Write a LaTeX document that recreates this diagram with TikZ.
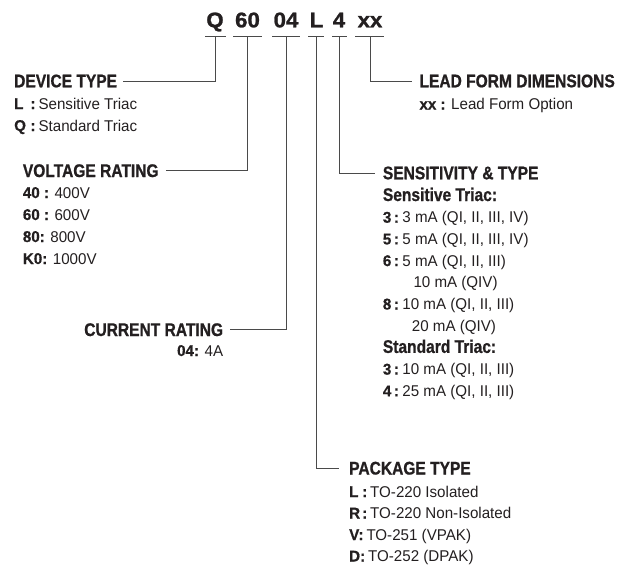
\documentclass[tikz,border=0pt]{standalone}
\usepackage{fontspec}
\setmainfont{Liberation Sans}[FakeStretch=0.97, BoldFeatures={FakeBold=0.6}]
\newfontfamily\headfont{Liberation Sans}[FakeStretch=0.85, BoldFeatures={FakeBold=0.9}]
\newfontfamily\titlefont{Liberation Sans}[FakeStretch=1.05, BoldFeatures={FakeBold=1.2}]
\definecolor{ink}{HTML}{231F20}
\definecolor{rulecol}{HTML}{4A4A4A}
\newcommand\lbx[2]{\makebox[#1][l]{\bfseries #2}}
\begin{document}
\begin{tikzpicture}[x=1pt,y=-1pt,
  head/.style={anchor=base west, inner sep=0pt, text=ink, font=\headfont\bfseries\fontsize{18.3}{20}\selectfont},
  body/.style={anchor=base west, inner sep=0pt, text=ink, font=\fontsize{15.6}{18}\selectfont},
  ttl/.style={anchor=base, inner sep=0pt, text=ink, font=\titlefont\bfseries\fontsize{21.2}{22}\selectfont},
  conn/.style={draw=rulecol, line width=0.8pt}]
\useasboundingbox (0,0) rectangle (621,568);

% title segments
\node[ttl] (tQ) at (215,27.3) {Q};
\node[ttl] (t60) at (247.5,27.3) {60};
\node[ttl] (t04) at (286,27.3) {04};
\node[ttl] (tL) at (316.5,27.3) {L};
\node[ttl] (t4) at (339,27.3) {4};
\node[ttl] (txx) at (370,27.3) {xx};

% underline coordinates
\coordinate (qa) at (205,36.5); \coordinate (qb) at (226,36.5); \coordinate (qm) at (215,36.5);
\coordinate (va) at (233,36.5); \coordinate (vb) at (262,36.5); \coordinate (vm) at (247,36.5);
\coordinate (ca) at (272,36.5); \coordinate (cb) at (300,36.5); \coordinate (cm) at (286,36.5);
\coordinate (pa) at (308,36.5); \coordinate (pb) at (324,36.5); \coordinate (pm) at (316,36.5);
\coordinate (sa) at (332,36.5); \coordinate (sb) at (347,36.5); \coordinate (sm) at (339,36.5);
\coordinate (la) at (355,36.5); \coordinate (lb) at (384,36.5); \coordinate (lm) at (370,36.5);
\draw[conn] (qa) -- (qb);
\draw[conn] (va) -- (vb);
\draw[conn] (ca) -- (cb);
\draw[conn] (pa) -- (pb);
\draw[conn] (sa) -- (sb);
\draw[conn] (la) -- (lb);

% DEVICE TYPE
\node[head] (dev) at (14,87.3) {DEVICE TYPE};
\node[body] (dev1) at (14,109) {\lbx{16.3pt}{L}\textbf{:}\hspace{3pt}Sensitive Triac};
\node[body] (dev2) at (14,131) {\lbx{16.3pt}{Q}\textbf{:}\hspace{3pt}Standard Triac};
\draw[conn] ([xshift=6pt]dev.east) -| (qm);

% VOLTAGE RATING
\node[head] (volt) at (22.7,177) {VOLTAGE RATING};
\node[body] (v1) at (22.7,198) {\textbf{40 :} 400V};
\node[body] (v2) at (22.7,220) {\textbf{60 :} 600V};
\node[body] (v3) at (22.7,242) {\textbf{80:} 800V};
\node[body] (v4) at (22.7,264) {\textbf{K0:} 1000V};
\draw[conn] ([xshift=7pt]volt.east) -| (vm);

% CURRENT RATING
\node[head, anchor=base east] (cur) at (223.3,336) {CURRENT RATING};
\node[body, anchor=base east] (cur1) at (223.3,356) {\textbf{04:} 4A};
\draw[conn] ([xshift=7pt]cur.east) -| (cm);

% LEAD FORM DIMENSIONS
\node[head] (lead) at (419.3,87.3) {LEAD FORM DIMENSIONS};
\node[body] (lead1) at (419.3,109.5) {\textbf{xx :} Lead Form Option};
\draw[conn] (lm) |- ([xshift=-7.5pt]lead.west);

% SENSITIVITY & TYPE
\node[head] (sens) at (382.7,179.3) {SENSITIVITY \& TYPE};
\node[head] (sens0) at (382.7,201) {Sensitive Triac:};
\node[body] (s1) at (382.7,222.7) {\lbx{11pt}{3}\textbf{:}\hspace{3.5pt}3 mA (QI, II, III, IV)};
\node[body] (s2) at (382.7,244.4) {\lbx{11pt}{5}\textbf{:}\hspace{3.5pt}5 mA (QI, II, III, IV)};
\node[body] (s3) at (382.7,266.1) {\lbx{11pt}{6}\textbf{:}\hspace{3.5pt}5 mA (QI, II, III)};
\node[body] (s3b) at (413.3,287.8) {10 mA (QIV)};
\node[body] (s4) at (382.7,309.5) {\lbx{11pt}{8}\textbf{:}\hspace{3.5pt}10 mA (QI, II, III)};
\node[body] (s4b) at (411.7,331.2) {20 mA (QIV)};
\node[head] (sens9) at (382.7,352.9) {Standard Triac:};
\node[body] (s5) at (382.7,374.6) {\lbx{11pt}{3}\textbf{:}\hspace{3.5pt}10 mA (QI, II, III)};
\node[body] (s6) at (382.7,396.3) {\lbx{11pt}{4}\textbf{:}\hspace{3.5pt}25 mA (QI, II, III)};
\draw[conn] (sm) |- ([xshift=-7.5pt]sens.west);

% PACKAGE TYPE
\node[head] (pack) at (349,474.5) {PACKAGE TYPE};
\node[body] (p1) at (349,497) {\lbx{13pt}{L}\textbf{:}\hspace{3pt}TO-220 Isolated};
\node[body] (p2) at (349,518.5) {\lbx{13pt}{R}\textbf{:}\hspace{3pt}TO-220 Non-Isolated};
\node[body] (p3) at (349,540) {\textbf{V:}\hspace{3pt}TO-251 (VPAK)};
\node[body] (p4) at (349,561.5) {\textbf{D:}\hspace{3pt}TO-252 (DPAK)};
\draw[conn] (pm) |- ([xshift=-10.5pt]pack.west);
\end{tikzpicture}
\end{document}
